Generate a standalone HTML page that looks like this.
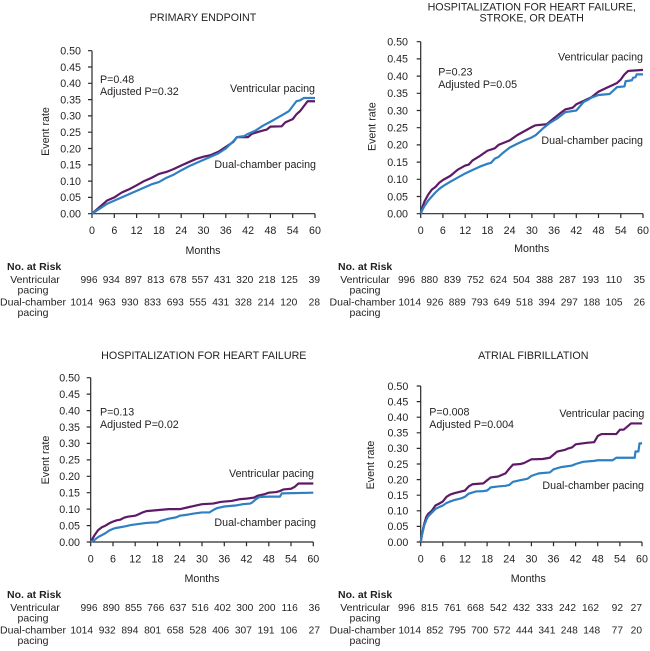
<!DOCTYPE html>
<html><head><meta charset="utf-8">
<style>
html,body{margin:0;padding:0;background:#fff;}
svg{display:block;}
text{font-family:"Liberation Sans",Arial,sans-serif;fill:#231f20;}
.t{font-size:10.7px;}
.n{font-size:10.2px;}
.b{font-weight:bold;font-size:10.5px;}
.ax{stroke:#2a2a2a;stroke-width:1.2;fill:none;}
.pu{stroke:#5e1a66;stroke-width:2.2;fill:none;vector-effect:non-scaling-stroke;stroke-linejoin:round;}
.bl{stroke:#2f80c2;stroke-width:2.2;fill:none;vector-effect:non-scaling-stroke;stroke-linejoin:round;}
</style></head>
<body>
<svg width="650" height="651" viewBox="0 0 650 651" xmlns="http://www.w3.org/2000/svg">

<!-- ================= TOP LEFT ================= -->
<text class="t" x="203" y="21" text-anchor="middle">PRIMARY ENDPOINT</text>
<path class="ax" d="M92,50.7V213.7H315"/>
<path class="ax" d="M88,213.7H92M88,197.4H92M88,181.1H92M88,164.8H92M88,148.5H92M88,132.2H92M88,115.9H92M88,99.6H92M88,83.3H92M88,67H92M88,50.7H92"/>
<path class="ax" d="M92,213.7V218M114.3,213.7V218M136.6,213.7V218M158.9,213.7V218M181.2,213.7V218M203.5,213.7V218M225.8,213.7V218M248.1,213.7V218M270.4,213.7V218M292.7,213.7V218M315,213.7V218"/>
<g class="t" text-anchor="end">
<text x="81" y="217.5">0.00</text><text x="81" y="201.2">0.05</text><text x="81" y="184.9">0.10</text><text x="81" y="168.6">0.15</text><text x="81" y="152.3">0.20</text><text x="81" y="136">0.25</text><text x="81" y="119.7">0.30</text><text x="81" y="103.4">0.35</text><text x="81" y="87.1">0.40</text><text x="81" y="70.8">0.45</text><text x="81" y="54.5">0.50</text>
</g>
<g class="t" text-anchor="middle">
<text x="92" y="234">0</text><text x="114.3" y="234">6</text><text x="136.6" y="234">12</text><text x="158.9" y="234">18</text><text x="181.2" y="234">24</text><text x="203.5" y="234">30</text><text x="225.8" y="234">36</text><text x="248.1" y="234">42</text><text x="270.4" y="234">48</text><text x="292.7" y="234">54</text><text x="315" y="234">60</text>
<text x="203" y="254">Months</text>
</g>
<text class="t" transform="translate(49,131.5) rotate(-90)" text-anchor="middle">Event rate</text>
<text class="t" x="100" y="83">P=0.48</text>
<text class="t" x="100" y="95">Adjusted P=0.32</text>
<text class="t" x="315" y="92" text-anchor="end">Ventricular pacing</text>
<text class="t" x="316" y="168" text-anchor="end">Dual-chamber pacing</text>
<g transform="translate(92,213.7) scale(3.717,-326)">
<polyline class="pu" points="0,0 2,0.02 4,0.04 6,0.05 8,0.065 10,0.075 12,0.087 14,0.1 16,0.11 18,0.122 20,0.128 22,0.137 24,0.148 26,0.158 28,0.168 30,0.175 32,0.18 34,0.19 36,0.205 38,0.22 39,0.235 42,0.235 43,0.245 45,0.252 47,0.258 48,0.267 51,0.268 52,0.28 54,0.29 55,0.305 56,0.315 57,0.33 58,0.345 60,0.345"/>
<polyline class="bl" points="0,0 2,0.015 4,0.03 6,0.04 8,0.05 10,0.06 12,0.07 14,0.08 16,0.09 18,0.097 20,0.11 22,0.12 24,0.133 26,0.145 28,0.155 30,0.165 32,0.175 34,0.185 36,0.2 38,0.222 39,0.235 41,0.238 42,0.245 44,0.255 46,0.27 48,0.282 50,0.295 52,0.308 53,0.315 54,0.33 55,0.345 56,0.348 57,0.355 60,0.355"/>
</g>
<!-- at risk TL -->
<text class="b" x="7" y="270">No. at Risk</text>
<g class="t" text-anchor="middle" style="font-size:10.5px">
<text x="35" y="283">Ventricular</text><text x="33" y="293.5">pacing</text>
<text x="33" y="305.5">Dual-chamber</text><text x="33" y="316">pacing</text>
</g>
<g class="n" text-anchor="end">
<text x="97.5" y="283">996</text><text x="119.8" y="283">934</text><text x="142" y="283">897</text><text x="164.3" y="283">813</text><text x="186.6" y="283">678</text><text x="208.8" y="283">557</text><text x="231" y="283">431</text><text x="253.3" y="283">320</text><text x="275.5" y="283">218</text><text x="297.8" y="283">125</text><text x="320" y="283">39</text>
<text x="93" y="305.5">1014</text><text x="115.7" y="305.5">963</text><text x="138.4" y="305.5">930</text><text x="161.1" y="305.5">833</text><text x="183.8" y="305.5">693</text><text x="206.5" y="305.5">555</text><text x="229.2" y="305.5">431</text><text x="251.9" y="305.5">328</text><text x="274.6" y="305.5">214</text><text x="297.3" y="305.5">120</text><text x="320" y="305.5">28</text>
</g>

<!-- ================= TOP RIGHT ================= -->
<text class="t" x="531.7" y="10.5" text-anchor="middle">HOSPITALIZATION FOR HEART FAILURE,</text>
<text class="t" x="531.7" y="21.5" text-anchor="middle">STROKE, OR DEATH</text>
<path class="ax" d="M420.7,41.7V213.7H643"/>
<path class="ax" d="M416.7,213.7H420.7M416.7,196.5H420.7M416.7,179.3H420.7M416.7,162.1H420.7M416.7,144.9H420.7M416.7,127.7H420.7M416.7,110.5H420.7M416.7,93.3H420.7M416.7,76.1H420.7M416.7,58.9H420.7M416.7,41.7H420.7"/>
<path class="ax" d="M420.7,213.7V218M442.9,213.7V218M465.2,213.7V218M487.4,213.7V218M509.6,213.7V218M531.9,213.7V218M554.1,213.7V218M576.3,213.7V218M598.5,213.7V218M620.8,213.7V218M643,213.7V218"/>
<g class="t" text-anchor="end">
<text x="408" y="217.5">0.00</text><text x="408" y="200.3">0.05</text><text x="408" y="183.1">0.10</text><text x="408" y="165.9">0.15</text><text x="408" y="148.7">0.20</text><text x="408" y="131.5">0.25</text><text x="408" y="114.3">0.30</text><text x="408" y="97.1">0.35</text><text x="408" y="79.9">0.40</text><text x="408" y="62.7">0.45</text><text x="408" y="45.5">0.50</text>
</g>
<g class="t" text-anchor="middle">
<text x="420.7" y="234">0</text><text x="442.9" y="234">6</text><text x="465.2" y="234">12</text><text x="487.4" y="234">18</text><text x="509.6" y="234">24</text><text x="531.9" y="234">30</text><text x="554.1" y="234">36</text><text x="576.3" y="234">42</text><text x="598.5" y="234">48</text><text x="620.8" y="234">54</text><text x="643" y="234">60</text>
<text x="531.7" y="252">Months</text>
</g>
<text class="t" transform="translate(375.5,126.7) rotate(-90)" text-anchor="middle">Event rate</text>
<text class="t" x="438.3" y="75.5">P=0.23</text>
<text class="t" x="438.3" y="88">Adjusted P=0.05</text>
<text class="t" x="643" y="60.5" text-anchor="end">Ventricular pacing</text>
<text class="t" x="643" y="144" text-anchor="end">Dual-chamber pacing</text>
<g transform="translate(420.7,213.7) scale(3.705,-344)">
<polyline class="pu" points="0,0 0.5,0.02 1,0.035 2,0.055 3,0.07 4,0.078 5,0.09 6,0.098 8,0.11 10,0.128 12,0.14 13,0.143 14,0.155 16,0.168 18,0.183 20,0.19 21,0.2 24,0.213 26,0.228 28,0.24 30,0.252 31,0.257 34,0.26 36,0.278 38,0.295 39,0.303 41,0.308 42,0.318 44,0.328 46,0.338 48,0.355 50,0.365 52,0.375 53,0.38 54,0.39 55,0.405 56,0.415 60,0.418"/>
<polyline class="bl" points="0,0 0.5,0.012 1,0.022 2,0.038 3,0.05 4,0.062 5,0.072 6,0.08 8,0.093 10,0.105 12,0.117 14,0.127 16,0.137 18,0.145 19,0.148 20,0.16 21,0.165 22,0.175 24,0.192 26,0.203 28,0.213 30,0.222 31,0.228 33,0.248 35,0.265 37,0.278 39,0.295 42,0.3 44,0.325 45,0.33 46,0.337 48,0.345 51,0.348 52,0.358 53,0.368 55,0.37 55.3,0.385 57,0.388 57.3,0.395 58,0.397 58.3,0.405 60,0.405"/>
</g>
<!-- at risk TR -->
<text class="b" x="338" y="270">No. at Risk</text>
<g class="t" text-anchor="middle" style="font-size:10.5px">
<text x="365" y="283">Ventricular</text><text x="365" y="293.5">pacing</text>
<text x="362.5" y="305.5">Dual-chamber</text><text x="365" y="316">pacing</text>
</g>
<g class="n" text-anchor="end">
<text x="415" y="283">996</text><text x="438" y="283">880</text><text x="461" y="283">839</text><text x="484" y="283">752</text><text x="507" y="283">624</text><text x="530" y="283">504</text><text x="553" y="283">388</text><text x="576" y="283">287</text><text x="599" y="283">193</text><text x="622" y="283">110</text><text x="645" y="283">35</text>
<text x="421" y="305.5">1014</text><text x="443.4" y="305.5">926</text><text x="465.8" y="305.5">889</text><text x="488.2" y="305.5">793</text><text x="510.6" y="305.5">649</text><text x="533" y="305.5">518</text><text x="555.4" y="305.5">394</text><text x="577.8" y="305.5">297</text><text x="600.2" y="305.5">188</text><text x="622.6" y="305.5">105</text><text x="645" y="305.5">26</text>
</g>

<!-- ================= BOTTOM LEFT ================= -->
<text class="t" x="203.8" y="359" text-anchor="middle">HOSPITALIZATION FOR HEART FAILURE</text>
<path class="ax" d="M90.7,377.7V542H313.3"/>
<path class="ax" d="M86.7,542H90.7M86.7,525.6H90.7M86.7,509.1H90.7M86.7,492.7H90.7M86.7,476.3H90.7M86.7,459.9H90.7M86.7,443.4H90.7M86.7,427H90.7M86.7,410.6H90.7M86.7,394.1H90.7M86.7,377.7H90.7"/>
<path class="ax" d="M90.7,542V546.3M113,542V546.3M135.2,542V546.3M157.5,542V546.3M179.7,542V546.3M202,542V546.3M224.3,542V546.3M246.5,542V546.3M268.8,542V546.3M291,542V546.3M313.3,542V546.3"/>
<g class="t" text-anchor="end">
<text x="80" y="545.8">0.00</text><text x="80" y="529.4">0.05</text><text x="80" y="512.9">0.10</text><text x="80" y="496.5">0.15</text><text x="80" y="480.1">0.20</text><text x="80" y="463.7">0.25</text><text x="80" y="447.2">0.30</text><text x="80" y="430.8">0.35</text><text x="80" y="414.4">0.40</text><text x="80" y="397.9">0.45</text><text x="80" y="381.5">0.50</text>
</g>
<g class="t" text-anchor="middle">
<text x="90.7" y="562.5">0</text><text x="113" y="562.5">6</text><text x="135.2" y="562.5">12</text><text x="157.5" y="562.5">18</text><text x="179.7" y="562.5">24</text><text x="202" y="562.5">30</text><text x="224.3" y="562.5">36</text><text x="246.5" y="562.5">42</text><text x="268.8" y="562.5">48</text><text x="291" y="562.5">54</text><text x="313.3" y="562.5">60</text>
<text x="202" y="582">Months</text>
</g>
<text class="t" transform="translate(49,460) rotate(-90)" text-anchor="middle">Event rate</text>
<text class="t" x="100" y="415.5">P=0.13</text>
<text class="t" x="100" y="428">Adjusted P=0.02</text>
<text class="t" x="314" y="477" text-anchor="end">Ventricular pacing</text>
<text class="t" x="316" y="526" text-anchor="end">Dual-chamber pacing</text>
<g transform="translate(90.7,542) scale(3.71,-328.6)">
<polyline class="pu" points="0,0 0.5,0.01 1,0.02 2,0.036 3,0.045 4,0.05 5,0.057 6,0.062 7,0.066 8,0.068 9,0.074 10,0.077 12,0.08 13,0.085 14,0.09 15,0.094 18,0.097 21,0.1 24,0.1 26,0.105 28,0.11 30,0.115 33,0.117 35,0.122 36,0.123 38,0.125 40,0.13 42,0.132 44,0.135 45,0.141 47,0.146 48,0.15 50,0.152 51,0.155 52,0.16 54,0.162 55,0.168 56,0.178 60,0.178"/>
<polyline class="bl" points="0,0 1,0.006 2,0.015 3,0.021 4,0.027 5,0.035 6,0.04 7,0.043 9,0.047 11,0.052 13,0.055 15,0.058 18,0.06 19,0.065 21,0.071 23,0.075 24,0.08 26,0.083 28,0.087 30,0.09 32,0.09 33,0.097 34,0.103 36,0.108 39,0.111 41,0.115 43,0.117 43.5,0.12 44.5,0.13 45.5,0.137 48,0.138 51,0.138 51.5,0.148 60,0.15"/>
</g>
<!-- at risk BL -->
<text class="b" x="7" y="598">No. at Risk</text>
<g class="t" text-anchor="middle" style="font-size:10.5px">
<text x="35" y="611">Ventricular</text><text x="33" y="621.5">pacing</text>
<text x="33" y="633.5">Dual-chamber</text><text x="33" y="644">pacing</text>
</g>
<g class="n" text-anchor="end">
<text x="97.5" y="611">996</text><text x="119.8" y="611">890</text><text x="142" y="611">855</text><text x="164.3" y="611">766</text><text x="186.6" y="611">637</text><text x="208.8" y="611">516</text><text x="231" y="611">402</text><text x="253.3" y="611">300</text><text x="275.5" y="611">200</text><text x="297.8" y="611">116</text><text x="320" y="611">36</text>
<text x="93" y="633.5">1014</text><text x="115.7" y="633.5">932</text><text x="138.4" y="633.5">894</text><text x="161.1" y="633.5">801</text><text x="183.8" y="633.5">658</text><text x="206.5" y="633.5">528</text><text x="229.2" y="633.5">406</text><text x="251.9" y="633.5">307</text><text x="274.6" y="633.5">191</text><text x="297.3" y="633.5">106</text><text x="320" y="633.5">27</text>
</g>

<!-- ================= BOTTOM RIGHT ================= -->
<text class="t" x="533.3" y="359" text-anchor="middle">ATRIAL FIBRILLATION</text>
<path class="ax" d="M420.7,386V542H642"/>
<path class="ax" d="M416.7,542H420.7M416.7,526.4H420.7M416.7,510.8H420.7M416.7,495.2H420.7M416.7,479.6H420.7M416.7,464H420.7M416.7,448.4H420.7M416.7,432.8H420.7M416.7,417.2H420.7M416.7,401.6H420.7M416.7,386H420.7"/>
<path class="ax" d="M420.7,542V546.3M442.8,542V546.3M465,542V546.3M487.1,542V546.3M509.2,542V546.3M531.4,542V546.3M553.5,542V546.3M575.6,542V546.3M597.7,542V546.3M619.9,542V546.3M642,542V546.3"/>
<g class="t" text-anchor="end">
<text x="408.3" y="545.8">0.00</text><text x="408.3" y="530.2">0.05</text><text x="408.3" y="514.6">0.10</text><text x="408.3" y="499">0.15</text><text x="408.3" y="483.4">0.20</text><text x="408.3" y="467.8">0.25</text><text x="408.3" y="452.2">0.30</text><text x="408.3" y="436.6">0.35</text><text x="408.3" y="421">0.40</text><text x="408.3" y="405.4">0.45</text><text x="408.3" y="389.8">0.50</text>
</g>
<g class="t" text-anchor="middle">
<text x="420.7" y="562.5">0</text><text x="442.8" y="562.5">6</text><text x="465" y="562.5">12</text><text x="487.1" y="562.5">18</text><text x="509.2" y="562.5">24</text><text x="531.4" y="562.5">30</text><text x="553.5" y="562.5">36</text><text x="575.6" y="562.5">42</text><text x="597.7" y="562.5">48</text><text x="619.9" y="562.5">54</text><text x="642" y="562.5">60</text>
<text x="528.3" y="582">Months</text>
</g>
<text class="t" transform="translate(374,465) rotate(-90)" text-anchor="middle">Event rate</text>
<text class="t" x="429.3" y="415.5">P=0.008</text>
<text class="t" x="429.3" y="428">Adjusted P=0.004</text>
<text class="t" x="644.3" y="417" text-anchor="end">Ventricular pacing</text>
<text class="t" x="644" y="489" text-anchor="end">Dual-chamber pacing</text>
<g transform="translate(420.7,542) scale(3.69,-312)">
<polyline class="pu" points="0,0 0.3,0.02 0.7,0.045 1,0.06 1.5,0.08 2,0.09 3,0.1 4,0.117 5,0.123 6,0.13 7,0.145 8,0.152 9,0.156 11,0.162 12,0.165 13,0.178 14,0.185 17,0.188 18,0.198 19,0.207 21,0.21 22,0.215 23,0.22 24,0.235 25,0.248 27,0.25 28,0.253 30,0.265 33,0.266 35,0.27 36,0.28 37,0.29 39,0.295 40,0.3 41,0.303 42,0.313 45,0.318 47,0.32 48,0.34 49,0.346 53,0.346 54,0.36 55,0.36 56,0.37 57,0.38 60,0.38"/>
<polyline class="bl" points="0,0 0.3,0.02 0.7,0.04 1,0.055 1.5,0.07 2,0.082 3,0.094 4,0.106 5,0.112 6,0.117 7,0.125 8,0.13 9,0.134 11,0.14 12,0.145 13,0.155 15,0.162 17,0.163 18,0.165 19,0.175 21,0.178 23,0.18 24,0.183 25,0.193 27,0.198 29,0.203 30,0.212 32,0.22 35,0.223 36,0.233 38,0.24 41,0.245 42,0.25 44,0.257 47,0.26 48,0.262 52,0.262 53,0.27 58,0.27 58.2,0.29 59,0.29 59.3,0.316 60,0.316"/>
</g>
<!-- at risk BR -->
<text class="b" x="338" y="598">No. at Risk</text>
<g class="t" text-anchor="middle" style="font-size:10.5px">
<text x="365" y="611">Ventricular</text><text x="365" y="621.5">pacing</text>
<text x="362.5" y="633.5">Dual-chamber</text><text x="365" y="644">pacing</text>
</g>
<g class="n" text-anchor="end">
<text x="415" y="611">996</text><text x="438" y="611">815</text><text x="461" y="611">761</text><text x="484" y="611">668</text><text x="507" y="611">542</text><text x="530" y="611">432</text><text x="553" y="611">333</text><text x="576" y="611">242</text><text x="599" y="611">162</text><text x="623" y="611">92</text><text x="642" y="611">27</text>
<text x="421" y="633.5">1014</text><text x="443.4" y="633.5">852</text><text x="465.8" y="633.5">795</text><text x="488.2" y="633.5">700</text><text x="510.6" y="633.5">572</text><text x="533" y="633.5">444</text><text x="555.4" y="633.5">341</text><text x="577.8" y="633.5">248</text><text x="600.2" y="633.5">148</text><text x="623" y="633.5">77</text><text x="642" y="633.5">20</text>
</g>
</svg>
</body></html>
